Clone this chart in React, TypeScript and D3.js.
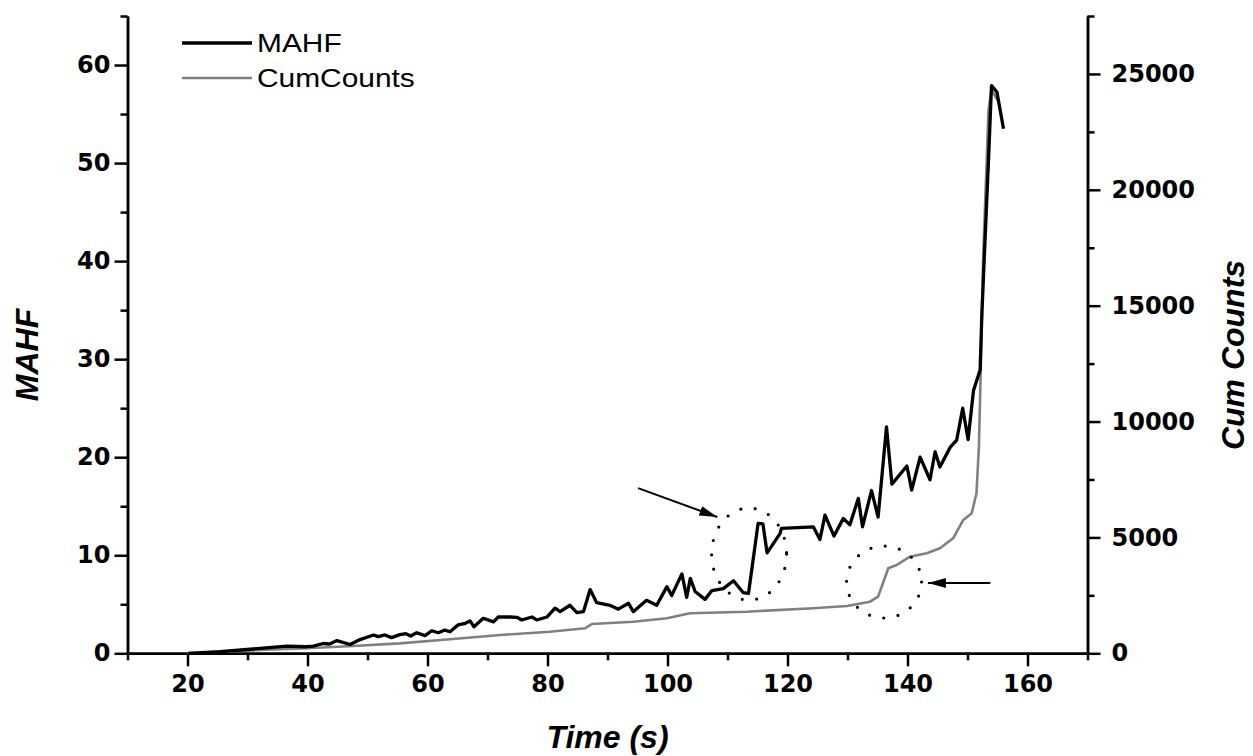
import React, { useEffect, useRef } from 'react';
import * as d3 from 'd3';

// MAHF series (black)
const timeMahf = [
  20.1, 25.4, 32.1, 36.5, 39.9, 41.0, 42.6, 43.7, 44.9, 47.1, 48.75, 51.0, 51.8, 52.9, 54.0,
  55.4, 56.4, 57.2, 58.2, 59.6, 60.7, 61.8, 62.9, 63.75, 65.1, 66.3, 67.1, 67.75, 69.3, 71.0,
  71.8, 73.75, 74.9, 75.7, 77.4, 78.2, 79.9, 81.25, 82.1, 83.75, 84.9, 86.0, 87.1, 88.2, 90.4,
  91.8, 93.5, 94.3, 96.5, 98.2, 99.9, 100.7, 102.4, 103.2, 103.8, 104.6, 106.25, 107.4, 109.3,
  111.0, 112.6, 113.5, 115.1, 115.9, 116.6, 118.75, 119.0, 124.3, 125.4, 126.25, 127.75, 129.3,
  130.4, 131.8, 132.5, 134.0, 135.1, 136.5, 137.4, 139.9, 140.7, 142.1, 143.75, 144.6, 145.4,
  147.1, 148.2, 149.2, 150.1, 151.0, 152.1, 152.4, 152.9, 153.5, 154.0, 154.9, 156.0,
];
const mahf = [
  0, 0.16, 0.5, 0.74, 0.67, 0.74, 1.0, 0.95, 1.3, 0.9, 1.4, 1.87, 1.7, 1.87, 1.6,
  1.9, 2.0, 1.76, 2.1, 1.8, 2.3, 2.1, 2.37, 2.2, 2.9, 3.06, 3.3, 2.7, 3.57, 3.2,
  3.7, 3.7, 3.67, 3.4, 3.7, 3.4, 3.7, 4.6, 4.25, 4.9, 4.15, 4.25, 6.5, 5.16, 4.9,
  4.5, 5.1, 4.25, 5.4, 4.9, 6.8, 5.9, 8.1, 5.7, 7.65, 6.3, 5.5, 6.4, 6.6,
  7.4, 6.2, 6.1, 13.25, 13.2, 10.25, 12.2, 12.75, 12.9, 11.6, 14.1, 11.96, 13.76,
  13.1, 15.8, 12.9, 16.6, 13.9, 23.1, 17.26, 19.1, 16.65, 20.0, 17.7, 20.55, 19.0,
  21.0, 21.75, 25.0, 21.8, 26.8, 28.9, 34.7, 41.8, 50.3, 57.9, 57.25, 53.5,
];

// Cumulative counts series (grey)
const timeCum = [
  20, 32, 40, 47.6, 55.4, 63.75, 72.1, 80.4, 86.25, 87.4, 94.3, 99.9, 103.75, 113.2, 124.3,
  129.9, 133.75, 135.1, 136.1, 136.8, 138.2, 140.4, 143.2, 145.4, 147.6, 149.3, 150.7, 151.5,
  151.9, 152.25, 152.6, 153.1, 153.5, 154.0, 155.3,
];
const cumCounts = [
  0, 140, 215, 315, 430, 605, 790, 933, 1078, 1265, 1364, 1510, 1726, 1795, 1942,
  2041, 2227, 2443, 3164, 3668, 3811, 4169, 4316, 4531, 4963, 5753, 6042, 6905,
  8917, 12660, 16975, 20570, 23450, 24310, 23740,
];

const xTicks = [20, 40, 60, 80, 100, 120, 140, 160];
const xMinor = [10, 30, 50, 70, 90, 110, 130, 150, 170];
const yLeftTicks = [0, 10, 20, 30, 40, 50, 60];
const yLeftMinor = [5, 15, 25, 35, 45, 55, 65];
const yRightTicks = [0, 5000, 10000, 15000, 20000, 25000];
const yRightMinor = [2500, 7500, 12500, 17500, 22500, 27500];

// annotations in data units (time, MAHF)
const arrowLines = [
  { x1: 95.1, y1: 16.85, x2: 108.3, y2: 13.9 },
  { x1: 153.8, y1: 7.17, x2: 143.4, y2: 7.17 },
];
const dottedRings = [
  { cx: 113.6, cy: 10.12, rx: 6.25, ry: 4.69 },
  { cx: 136.1, cy: 7.27, rx: 6.25, ry: 3.67 },
];

const W = 1253;
const H = 756;
const margin = { left: 127.5, right: W - 1087.5, top: 16, bottom: H - 653.3 };
const tickFont = 'DejaVu Sans, Verdana, sans-serif';

export default function App() {
  const svgRef = useRef<SVGSVGElement>(null);

  useEffect(() => {
    document.body.style.margin = '0';
    const svg = d3.select(svgRef.current);
    svg.selectAll('*').remove();

    const x = d3.scaleLinear().domain([10, 170]).range([margin.left, W - margin.right]);
    const yL = d3.scaleLinear().domain([0, 65]).range([H - margin.bottom, margin.top]);
    const yR = d3.scaleLinear().domain([0, 27500]).range([H - margin.bottom, margin.top]);

    svg.append('rect').attr('width', W).attr('height', H).attr('fill', '#fff');

    const defs = svg.append('defs');
    defs.append('marker')
      .attr('id', 'head')
      .attr('viewBox', '0 0 18 10')
      .attr('refX', 18).attr('refY', 5)
      .attr('markerWidth', 18).attr('markerHeight', 10)
      .attr('markerUnits', 'userSpaceOnUse')
      .attr('orient', 'auto')
      .append('path').attr('d', 'M0,0L18,5L0,10Z').attr('fill', '#000');

    const styleAxis = (g: any) => {
      g.select('.domain').attr('stroke', '#000').attr('stroke-width', 2.5);
      g.selectAll('.tick line').attr('stroke', '#000').attr('stroke-width', 2.5);
      g.selectAll('text')
        .attr('fill', '#000')
        .style('font-family', tickFont)
        .style('font-weight', 'bold')
        .style('font-size', '24px');
    };

    // bottom axis
    const gx = svg.append('g').attr('transform', `translate(0,${H - margin.bottom})`);
    gx.append('g').call(d3.axisBottom(x).tickValues(xMinor).tickSize(7).tickSizeOuter(0).tickFormat(() => '')).call(styleAxis);
    gx.append('g').call(d3.axisBottom(x).tickValues(xTicks).tickSize(13).tickSizeOuter(0).tickPadding(9).tickFormat(d3.format('d'))).call(styleAxis);

    // left axis
    const gl = svg.append('g').attr('transform', `translate(${margin.left},0)`);
    gl.append('g').call(d3.axisLeft(yL).tickValues(yLeftMinor).tickSize(7).tickSizeOuter(0).tickFormat(() => '')).call(styleAxis);
    gl.append('g').call(d3.axisLeft(yL).tickValues(yLeftTicks).tickSize(13).tickSizeOuter(0).tickPadding(4).tickFormat(d3.format('d'))).call(styleAxis);

    // right axis
    const gr = svg.append('g').attr('transform', `translate(${W - margin.right},0)`);
    gr.append('g').call(d3.axisRight(yR).tickValues(yRightMinor).tickSize(7).tickSizeOuter(0).tickFormat(() => '')).call(styleAxis);
    gr.append('g').call(d3.axisRight(yR).tickValues(yRightTicks).tickSize(13).tickSizeOuter(0).tickPadding(11).tickFormat(d3.format('d'))).call(styleAxis);

    // series
    const cumLine = d3.line<number>().x((_, i) => x(timeCum[i])).y(d => yR(d));
    svg.append('path').datum(cumCounts).attr('d', cumLine)
      .attr('fill', 'none').attr('stroke', '#808080').attr('stroke-width', 2.6)
      .attr('stroke-linejoin', 'round');

    const mahfLine = d3.line<number>().x((_, i) => x(timeMahf[i])).y(d => yL(d));
    svg.append('path').datum(mahf).attr('d', mahfLine)
      .attr('fill', 'none').attr('stroke', '#000').attr('stroke-width', 3.3)
      .attr('stroke-linejoin', 'round');

    // annotations
    svg.selectAll('.ring').data(dottedRings).enter().append('ellipse')
      .attr('cx', d => x(d.cx)).attr('cy', d => yL(d.cy))
      .attr('rx', d => x(d.cx + d.rx) - x(d.cx)).attr('ry', d => yL(d.cy - d.ry) - yL(d.cy))
      .attr('fill', 'none').attr('stroke', '#000').attr('stroke-width', 3.2)
      .attr('stroke-linecap', 'round').attr('stroke-dasharray', '0 14.5');

    svg.selectAll('.arrow').data(arrowLines).enter().append('line')
      .attr('x1', d => x(d.x1)).attr('y1', d => yL(d.y1))
      .attr('x2', d => x(d.x2)).attr('y2', d => yL(d.y2))
      .attr('stroke', '#000').attr('stroke-width', 2)
      .attr('marker-end', 'url(#head)');

    // legend
    const legend = svg.append('g').attr('transform', 'translate(182,0)');
    [
      { label: 'MAHF', color: '#000', w: 3.3, y: 43 },
      { label: 'CumCounts', color: '#808080', w: 2.6, y: 78 },
    ].forEach(item => {
      legend.append('line').attr('x1', 0).attr('x2', 70).attr('y1', item.y).attr('y2', item.y)
        .attr('stroke', item.color).attr('stroke-width', item.w);
      legend.append('text').attr('transform', `translate(75,${item.y}) scale(1.15,1)`)
        .attr('dy', '0.35em')
        .style('font-family', 'Liberation Sans, Arial, sans-serif').style('font-size', '26px')
        .attr('fill', '#000').text(item.label);
    });

    // axis titles
    const titleStyle = (t: any) => t
      .style('font-family', 'Liberation Sans, Arial, sans-serif')
      .style('font-weight', 'bold').style('font-style', 'italic').style('font-size', '32px')
      .attr('fill', '#000').attr('text-anchor', 'middle');

    svg.append('text').attr('x', (margin.left + W - margin.right) / 2).attr('y', 748)
      .call(titleStyle).text('Time (s)');
    svg.append('text').attr('transform', `translate(38,355) rotate(-90)`)
      .call(titleStyle).text('MAHF');
    svg.append('text').attr('transform', `translate(1244,355) rotate(-90)`)
      .call(titleStyle).text('Cum Counts');
  }, []);

  return <svg ref={svgRef} width={W} height={H} style={{ display: 'block' }} />;
}
